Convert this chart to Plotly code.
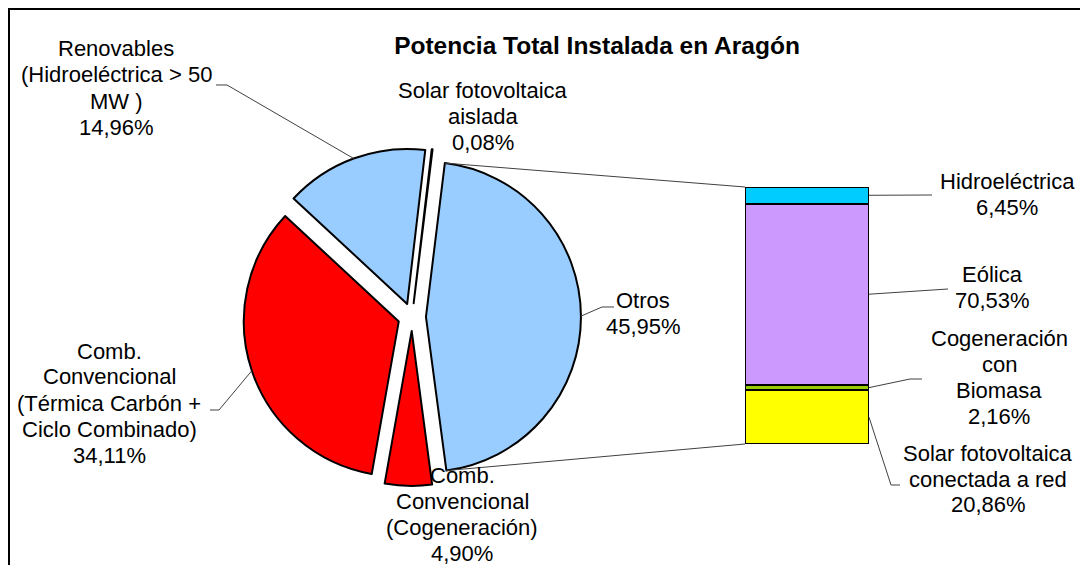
import math
import plotly.graph_objects as go

W, H = 1080, 565
FONT = "Liberation Sans, Arial, sans-serif"

# ---- data -------------------------------------------------------------
# main pie, clockwise from the top
pie_labels = [
    "Otros",
    "Comb. Convencional (Cogeneración)",
    "Comb. Convencional (Térmica Carbón + Ciclo Combinado)",
    "Renovables (Hidroeléctrica > 50 MW )",
    "Solar fotovoltaica aislada",
]
pie_values = [45.95, 4.90, 34.11, 14.96, 0.08]
pie_colors = ["#99CCFF", "#FF0000", "#FF0000", "#99CCFF", "#FFFFFF"]
pie_text = [
    ["Otros"],
    ["Comb.", "Convencional", "(Cogeneración)"],
    ["Comb.", "Convencional", "(Térmica Carbón +", "Ciclo Combinado)"],
    ["Renovables", "(Hidroeléctrica > 50", "MW )"],
    ["Solar fotovoltaica", "aislada"],
]

# breakdown of "Otros", stacked from the bottom
bar_labels = ["Solar fotovoltaica conectada a red", "Cogeneración con Biomasa",
              "Eólica", "Hidroeléctrica"]
bar_values = [20.86, 2.16, 70.53, 6.45]
bar_colors = ["#FFFF00", "#99CC00", "#CC99FF", "#00CCFF"]
bar_text = [
    ["Solar fotovoltaica", "conectada a red"],
    ["Cogeneración", "con", "Biomasa"],
    ["Eólica"],
    ["Hidroeléctrica"],
]

# ---- layout geometry (pixels from top-left) -----------------------------
PIE_CX, PIE_CY, PIE_R, PULL = 412, 317, 155, 0.09
ROTATION = 7
BAR_X0, BAR_X1, BAR_TOP, BAR_BOT = 745, 869, 187, 444

# label block centres and leader bends
pie_label_pos = {0: (643, 313), 1: (462, 514), 2: (109, 403), 3: (116, 88), 4: (483, 116)}
pie_leader = {0: [(602, 307), (614, 307)], 2: [(219, 410), (210, 410)], 3: [(227, 85), (216, 85)]}
bar_label_pos = {0: (988, 479), 1: (999, 377), 2: (992, 287), 3: (1007, 194)}
bar_leader = {0: [(891, 485), (900, 485)], 1: [(910, 379), (922, 379)], 2: [(948, 289)], 3: [(932, 195)]}

LINE_H = 26


def px(x, y):
    return x / W, 1 - y / H


def pct(v):
    return f"{v:.2f}".replace(".", ",") + "%"


def polar(cx, cy, r, ang):
    a = math.radians(ang)
    return cx + r * math.sin(a), cy - r * math.cos(a)


fig = go.Figure()

half = PIE_R * (1 + PULL)
fig.add_trace(go.Pie(
    values=pie_values, labels=pie_labels, sort=False, direction="clockwise",
    rotation=ROTATION, pull=PULL, textinfo="none", showlegend=False,
    marker=dict(colors=pie_colors, line=dict(color="black", width=2)),
    domain=dict(x=[(PIE_CX - half) / W, (PIE_CX + half) / W],
                y=[1 - (PIE_CY + half) / H, 1 - (PIE_CY - half) / H]),
))

for name, v, c in zip(bar_labels, bar_values, bar_colors):
    fig.add_trace(go.Bar(
        x=[0], y=[v], name=name, width=1, showlegend=False,
        marker=dict(color=c, line=dict(color="black", width=2)),
    ))

shapes = []
annotations = []


def add_label(lines, x, yc):
    n = len(lines)
    for i, t in enumerate(lines):
        y = yc + (i - (n - 1) / 2) * LINE_H
        ax, ay = px(x, y)
        annotations.append(dict(x=ax, y=ay, xref="paper", yref="paper", text=t,
                                showarrow=False, xanchor="center", yanchor="middle",
                                font=dict(family=FONT, size=22, color="black")))


def add_path(points, color="#404040", width=1):
    d = ""
    for i, (x, y) in enumerate(points):
        X, Y = px(x, y)
        d += ("M" if i == 0 else "L") + f"{X:.5f},{Y:.5f} "
    shapes.append(dict(type="path", path=d, xref="paper", yref="paper",
                       line=dict(color=color, width=width)))


# pie slice angles
total = sum(pie_values)
start = ROTATION
angles = []
for v in pie_values:
    span = v / total * 360
    angles.append((start, start + span))
    start += span

pull_px = PULL * PIE_R
for i, v in enumerate(pie_values):
    a0, a1 = angles[i]
    mid = (a0 + a1) / 2
    add_label(pie_text[i] + [pct(v)], *pie_label_pos[i])
    if i in pie_leader:
        p = polar(PIE_CX, PIE_CY, PIE_R + pull_px, mid)
        add_path([p] + pie_leader[i])

# connector lines from the "Otros" slice to the bar
a0, a1 = angles[0]
ox, oy = polar(PIE_CX, PIE_CY, pull_px, (a0 + a1) / 2)
add_path([polar(ox, oy, PIE_R, a0), (BAR_X0, BAR_TOP)])
add_path([polar(ox, oy, PIE_R, a1), (BAR_X0, BAR_BOT)])

# bar labels and leaders
cum = 0
for i, v in enumerate(bar_values):
    mid = cum + v / 2
    cum += v
    y = BAR_BOT - (BAR_BOT - BAR_TOP) * mid / sum(bar_values)
    add_label(bar_text[i] + [pct(v)], *bar_label_pos[i])
    add_path([(BAR_X1, y)] + bar_leader[i])

# chart frame
shapes.append(dict(type="rect", xref="paper", yref="paper",
                   x0=9 / W, x1=1.05, y0=-0.05, y1=1 - 9 / H,
                   line=dict(color="black", width=2), fillcolor="rgba(0,0,0,0)"))

fig.update_layout(
    width=W, height=H, margin=dict(l=0, r=0, t=0, b=0),
    paper_bgcolor="white", plot_bgcolor="white",
    barmode="stack", bargap=0,
    title=dict(text="<b>Potencia Total Instalada en Aragón</b>", x=597 / W, y=1 - 45 / H,
               xref="paper", yref="paper", xanchor="center", yanchor="middle",
               font=dict(family=FONT, size=24.5, color="black")),
    xaxis=dict(domain=[BAR_X0 / W, BAR_X1 / W], range=[-0.5, 0.5], visible=False),
    yaxis=dict(domain=[1 - BAR_BOT / H, 1 - BAR_TOP / H], range=[0, sum(bar_values)], visible=False),
    shapes=shapes, annotations=annotations,
)

fig.write_html("out.html", config={"displayModeBar": False},
               post_script="document.body.style.margin='0';")
